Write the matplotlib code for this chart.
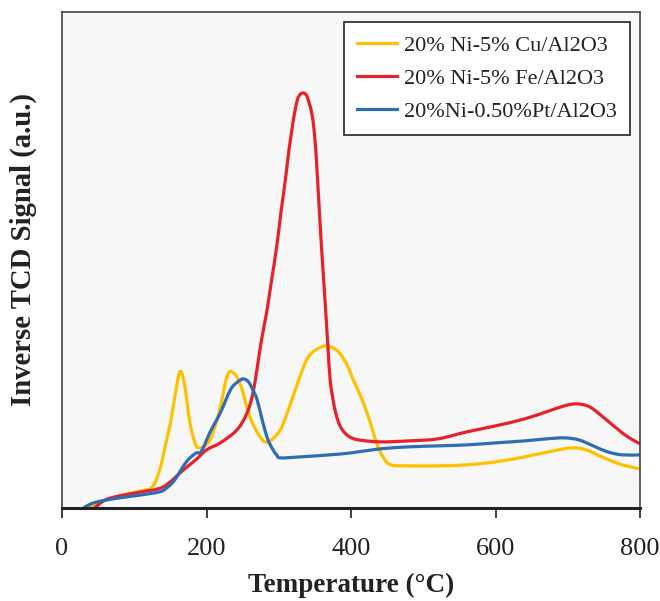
import matplotlib
matplotlib.use("Agg")
import matplotlib.pyplot as plt
import numpy as np
from matplotlib.path import Path
from matplotlib.patches import PathPatch
from matplotlib.lines import Line2D

plt.rcParams['font.family'] = ['Liberation Serif', 'DejaVu Serif']

# Temperature (°C) and TCD signal (a.u.) for each catalyst
temp_cu = [35, 50, 70, 90, 110, 125, 136, 144, 150, 156, 163, 169, 177, 184, 190,
           205, 219, 228, 235, 246, 260, 274, 285, 302, 316, 330, 340, 351, 364,
           375, 385, 395, 403, 413, 422, 430, 437, 445, 455, 480, 520, 560, 600,
           640, 680, 705, 725, 750, 775, 800]
sig_cu = [0, 5, 10, 14, 17, 21, 40, 66, 85, 111, 136, 125, 85, 65, 60,
          68, 101, 131, 136, 125, 91, 71, 66, 78, 104, 133, 150, 158, 162,
          160, 154, 142, 128, 112, 95, 77, 61, 50, 43, 42, 42, 43, 46,
          51, 57, 60, 58, 50, 43, 39]

temp_fe = [45, 60, 80, 110, 140, 168, 185, 200, 219, 242, 256, 265, 276, 283,
           290, 297, 303, 309, 314, 318, 322, 326, 330, 334, 338, 342, 346, 349,
           352, 355, 359, 362, 365, 368, 371, 375, 379, 384, 390, 398, 410, 440,
           480, 520, 560, 600, 640, 670, 695, 712, 730, 750, 770, 785, 800]
sig_fe = [0, 8, 12, 16, 21, 38, 48, 58, 65, 78, 95, 118, 168, 195,
          228, 261, 296, 328, 358, 378, 396, 409, 414, 415, 413, 405, 393, 376,
          348, 310, 261, 228, 195, 160, 128, 108, 94, 83, 76, 71, 68, 66,
          67, 69, 76, 82, 89, 96, 102, 104, 101, 90, 78, 70, 64]

temp_pt = [30, 40, 55, 80, 110, 135, 145, 155, 163, 170, 177, 186, 191, 196,
           205, 219, 233, 243, 251, 258, 264, 270, 278, 285, 292, 297, 302, 330,
           370, 400, 440, 480, 520, 560, 600, 640, 670, 695, 715, 735, 755,
           775, 800]
sig_pt = [0, 4, 7, 10, 13, 16, 20, 27, 36, 44, 50, 55, 55, 61,
          76, 95, 118, 126, 129, 126, 118, 108, 85, 68, 58, 53, 50, 51,
          53, 55, 59, 61, 62, 63, 65, 67, 69, 70, 68, 62, 56,
          53, 53]

series = [
    ("20% Ni-5% Cu/Al2O3", temp_cu, sig_cu, "#FFC000"),
    ("20% Ni-5% Fe/Al2O3", temp_fe, sig_fe, "#E8202A"),
    ("20%Ni-0.50%Pt/Al2O3", temp_pt, sig_pt, "#2E6DB4"),
]

x_ticks = [0, 200, 400, 600, 800]


def smooth_path(xs, ys):
    """Smoothed (Catmull-Rom style) Bezier path through the given points."""
    p = np.column_stack([xs, ys]).astype(float)
    n = len(p)
    verts = [p[0]]
    codes = [Path.MOVETO]
    for i in range(n - 1):
        p0 = p[i - 1] if i > 0 else p[i]
        p1 = p[i]
        p2 = p[i + 1]
        p3 = p[i + 2] if i + 2 < n else p[i + 1]
        c1 = p1 + (p2 - p0) / 6.0
        c2 = p2 - (p3 - p1) / 6.0
        verts += [c1, c2, p2]
        codes += [Path.CURVE4] * 3
    return Path(verts, codes)


fig = plt.figure(figsize=(6.6, 6.01), dpi=100)
ax = fig.add_axes([0.094, 0.155, 0.876, 0.825])
ax.set_facecolor("#f7f7f7")

handles = []
for label, t, s, color in series:
    patch = PathPatch(smooth_path(t, s), facecolor="none", edgecolor=color,
                      lw=2.3, capstyle="round", joinstyle="round")
    ax.add_patch(patch)
    handles.append(Line2D([], [], color=color, lw=2.3, label=label))

ax.set_xlim(0, 800)
ax.set_ylim(0, 496)
ax.set_xticks(x_ticks)
ax.set_yticks([])
ax.tick_params(axis="x", direction="out", length=7, width=1.3, colors="#333333",
               labelsize=19, pad=15, labelcolor="#222222")

for side in ("left", "top", "right"):
    ax.spines[side].set_color("#444444")
    ax.spines[side].set_linewidth(1.2)
ax.spines["bottom"].set_color("#222222")
ax.spines["bottom"].set_linewidth(2.2)

ax.set_xlabel("Temperature (°C)", fontsize=19.5, fontweight="bold", color="#222222",
              labelpad=9)
ax.set_ylabel("Inverse TCD Signal (a.u.)", fontsize=20.7, fontweight="bold",
              color="#222222")
ax.yaxis.set_label_coords(-0.043, 0.522)

leg = ax.legend(handles=handles, loc="upper right", bbox_to_anchor=(0.982, 0.98),
                fontsize=16, frameon=True, fancybox=False, edgecolor="#222222",
                handlelength=1.8, handletextpad=0.3, labelspacing=0.56,
                borderpad=0.6, borderaxespad=0.0)
leg.get_frame().set_linewidth(1.2)
leg.get_frame().set_facecolor("white")
leg.get_frame().set_alpha(1.0)
for txt in leg.get_texts():
    txt.set_color("#222222")

fig.savefig("out.png", dpi=100, facecolor="white")
